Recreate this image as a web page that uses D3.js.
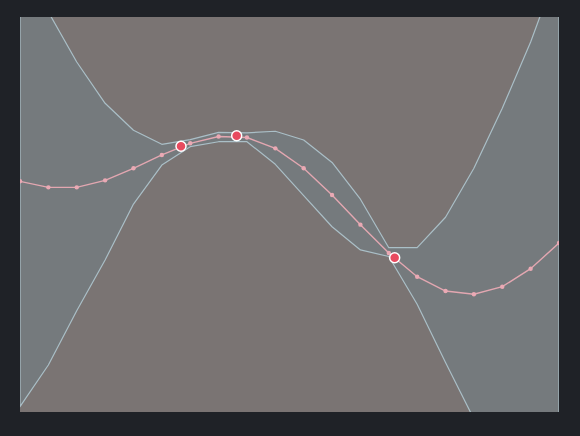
<!DOCTYPE html>
<html>
<head>
<meta charset="utf-8">
<script src="https://cdn.jsdelivr.net/npm/d3@7"></script>
<style>
  html, body { margin: 0; padding: 0; background: #1f2227; }
  svg { display: block; }
</style>
</head>
<body>
<div id="chart"></div>
<script>
// grid positions (index of the evaluation point)
var grid = d3.range(20);
// posterior mean at each grid point
var meanValues = [0.336, 0.275, 0.275, 0.346, 0.468, 0.603, 0.721, 0.790, 0.780, 0.670,
                  0.469, 0.197, -0.103, -0.390, -0.630, -0.775, -0.808, -0.731, -0.549, -0.289];
// upper edge of the confidence band
var upperValues = [2.618, 2.051, 1.544, 1.126, 0.853, 0.711, 0.759, 0.832, 0.827, 0.843,
                   0.754, 0.527, 0.155, -0.336, -0.336, -0.028, 0.468, 1.075, 1.747, 2.527];
// lower edge of the confidence band
var lowerValues = [-1.946, -1.524, -0.975, -0.461, 0.106, 0.501, 0.687, 0.737, 0.737, 0.508,
                   0.191, -0.124, -0.359, -0.425, -0.909, -1.499, -2.071, -2.537, -2.891, -3.094];
// observed points
var obsX = [5.675, 7.638, 13.207];
var obsY = [0.691, 0.797, -0.438];

function draw_function() {
    var width = 580, height = 436;
    var left = 20, right = 559, top = 17, bottom = 412;

    var svg = d3.select("#chart")
        .append("svg")
        .attr("width", width).attr("height", height);

    var x = d3.scaleLinear().domain([0, 19]).range([left, right]);
    var y = d3.scaleLinear().domain([-2, 2]).range([bottom, top]);

    svg.append("clipPath").attr("id", "plot-clip")
        .append("rect")
        .attr("x", left).attr("y", top)
        .attr("width", right - left).attr("height", bottom - top);

    var plot = svg.append("g").attr("clip-path", "url(#plot-clip)");

    // area outside the band
    plot.append("rect")
        .attr("x", left).attr("y", top)
        .attr("width", right - left).attr("height", bottom - top)
        .attr("fill", "#7a7473");

    var band = grid.map(function(i) {
        return {i: i, lo: lowerValues[i], hi: upperValues[i]};
    });

    var area = d3.area()
        .x(function(d) { return x(d.i); })
        .y0(function(d) { return y(d.lo); })
        .y1(function(d) { return y(d.hi); });

    // band, the closed outline also gives the two vertical edges
    plot.append("path")
        .datum(band)
        .attr("d", function(d) { return area(d) + "Z"; })
        .attr("fill", "#757a7d")
        .attr("stroke", "#aabfc7")
        .attr("stroke-width", 1.2)
        .attr("stroke-linejoin", "round");

    var mean = grid.map(function(i) { return {i: i, v: meanValues[i]}; });

    plot.append("path")
        .datum(mean)
        .attr("d", d3.line()
            .x(function(d) { return x(d.i); })
            .y(function(d) { return y(d.v); }))
        .attr("fill", "none")
        .attr("stroke", "#e3a7b1")
        .attr("stroke-width", 1.4);

    plot.selectAll("circle.mean")
        .data(mean)
        .enter()
        .append("circle")
        .attr("class", "mean")
        .attr("cx", function(d) { return x(d.i); })
        .attr("cy", function(d) { return y(d.v); })
        .attr("r", 2.2)
        .attr("fill", "#eaa9b4");

    var obs = obsX.map(function(v, k) { return {x: v, y: obsY[k]}; });

    plot.selectAll("circle.obs")
        .data(obs)
        .enter()
        .append("circle")
        .attr("class", "obs")
        .attr("cx", function(d) { return x(d.x); })
        .attr("cy", function(d) { return y(d.y); })
        .attr("r", 5)
        .attr("fill", "#e84a5f")
        .attr("stroke", "#ffffff")
        .attr("stroke-width", 1.5);
}

window.onload = draw_function;
</script>
</body>
</html>
